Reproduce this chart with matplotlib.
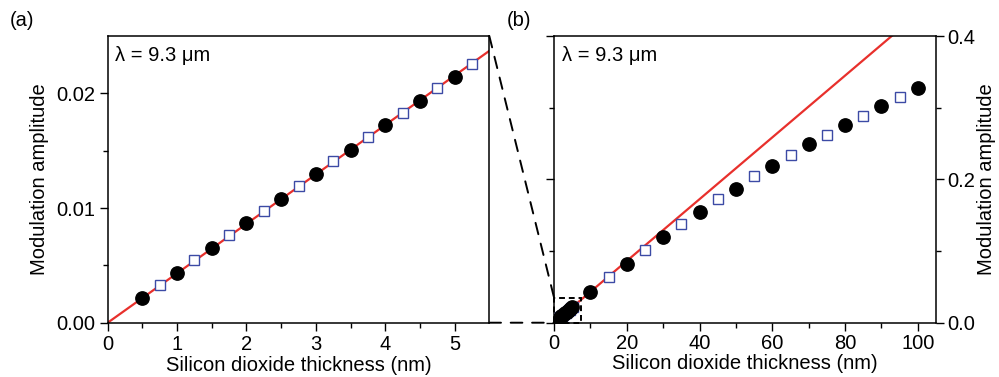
import numpy as np
import matplotlib.pyplot as plt
from matplotlib.patches import Rectangle, ConnectionPatch

plt.rcParams['font.family'] = ['Liberation Sans', 'DejaVu Sans']

# ---- data ----
# fine steps (panel a)
t_circ_a = [0.5, 1.0, 1.5, 2.0, 2.5, 3.0, 3.5, 4.0, 4.5, 5.0]
m_circ_a = [0.00218, 0.00436, 0.00649, 0.00867, 0.01081, 0.01296, 0.01508, 0.01721, 0.01933, 0.02145]
t_sq_a = [0.75, 1.25, 1.75, 2.25, 2.75, 3.25, 3.75, 4.25, 4.75, 5.25]
m_sq_a = [0.00329, 0.00547, 0.00762, 0.00977, 0.01192, 0.01407, 0.01619, 0.01831, 0.02044, 0.02255]

# coarse steps (panel b)
t_circ_b = [10, 20, 30, 40, 50, 60, 70, 80, 90, 100]
m_circ_b = [0.0423, 0.0819, 0.1195, 0.1544, 0.187, 0.219, 0.2488, 0.2763, 0.3023, 0.327]
t_sq_b = [15, 25, 35, 45, 55, 65, 75, 85, 95]
m_sq_b = [0.0637, 0.1019, 0.1381, 0.1721, 0.2042, 0.234, 0.2623, 0.2888, 0.3144]

# linear fit line (slope per nm)
slope = 0.00431
line_a_x = [0, 5.5]
line_b_x = [0, 105]

red = '#e8302c'
blue = '#3c4aa5'
fs = 14.5

fig = plt.figure(figsize=(9.99, 3.77), dpi=100)
ax1 = fig.add_axes([0.1078, 0.144, 0.382, 0.7605])
ax2 = fig.add_axes([0.5546, 0.144, 0.3824, 0.7605])

def draw(ax, tc, mc, ts, ms, lx, circles_on_top=False):
    if lx:
        ax.plot(lx, [slope * v for v in lx], color=red, lw=1.6, zorder=2)
    zc = 4 if circles_on_top else 3
    ax.plot(tc, mc, 'o', color='black', ms=9.6, zorder=zc)
    ax.plot(ts, ms, 's', mfc='white', mec=blue, mew=1.0, ms=7.7, zorder=3.5)

# panel (a)
draw(ax1, t_circ_a, m_circ_a, t_sq_a, m_sq_a, line_a_x)
ax1.set_xlim(0, 5.5)
ax1.set_ylim(0, 0.025)
ax1.set_xticks([0, 1, 2, 3, 4, 5])
ax1.set_xticks(np.arange(0.5, 5.5, 1.0), minor=True)
ax1.set_yticks([0, 0.01, 0.02])
ax1.set_yticklabels(['0.00', '0.01', '0.02'])
ax1.set_yticks([0.005, 0.015], minor=True)
ax1.set_xlabel('Silicon dioxide thickness (nm)', fontsize=fs, labelpad=1)
ax1.set_ylabel('Modulation amplitude', fontsize=fs, labelpad=5)
ax1.tick_params(which='major', direction='out', length=6, width=1, labelsize=fs, pad=3)
ax1.tick_params(which='minor', direction='out', length=3.5, width=1)
ax1.text(0.02, 0.965, 'λ = 9.3 μm', transform=ax1.transAxes, ha='left', va='top', fontsize=fs)

# panel (b)
draw(ax2, t_circ_b, m_circ_b, t_sq_b, m_sq_b, line_b_x)
draw(ax2, t_circ_a, m_circ_a, t_sq_a, m_sq_a, None, circles_on_top=True)
ax2.set_xlim(0, 105)
ax2.set_ylim(0, 0.4)
ax2.set_xticks([0, 20, 40, 60, 80, 100])
ax2.set_xticks([10, 30, 50, 70, 90], minor=True)
ax2.set_yticks([0, 0.2, 0.4])
ax2.set_yticklabels(['0.0', '0.2', '0.4'])
ax2.set_yticks([0.1, 0.3], minor=True)
ax2.yaxis.set_label_position('right')
ax2.set_xlabel('Silicon dioxide thickness (nm)', fontsize=fs, labelpad=1)
ax2.set_ylabel('Modulation amplitude', fontsize=fs, labelpad=1, rotation=90)
ax2.tick_params(which='major', direction='out', length=6, width=1, labelsize=fs, pad=2,
                left=True, right=True, labelleft=False, labelright=True)
ax2.tick_params(which='minor', direction='out', length=3.5, width=1, left=True, right=True)
ax2.text(0.02, 0.965, 'λ = 9.3 μm', transform=ax2.transAxes, ha='left', va='top', fontsize=fs)

# zoom box and connectors
box_w, box_h = 7.5, 0.035
ax2.add_patch(Rectangle((0, 0), box_w, box_h, fill=False, ls=(0, (3, 2)), lw=1.4,
                        color='black', zorder=5, clip_on=False))
for ya, yb in [(0.025, box_h), (0.0, 0.0)]:
    con = ConnectionPatch(xyA=(5.5, ya), coordsA=ax1.transData,
                          xyB=(0, yb), coordsB=ax2.transData,
                          ls=(0, (6, 5)), lw=1.4, color='black')
    fig.add_artist(con)

for ax in (ax1, ax2):
    for s in ax.spines.values():
        s.set_linewidth(1.1)

fig.text(0.01, 0.97, '(a)', fontsize=fs, ha='left', va='top')
fig.text(0.507, 0.97, '(b)', fontsize=fs, ha='left', va='top')

fig.savefig('out.png', dpi=100)
